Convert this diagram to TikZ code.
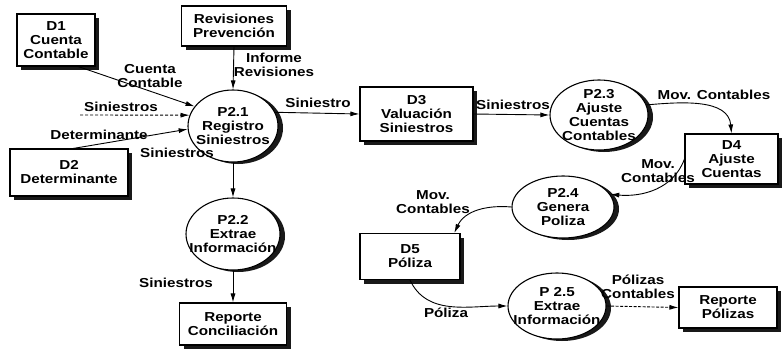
\documentclass[tikz,border=0pt]{standalone}
\usepackage{fontspec}
\setmainfont{Liberation Sans}[FakeStretch=1.17]
\usetikzlibrary{shapes.geometric,shadows,arrows.meta}
\begin{document}
\begin{tikzpicture}[x=1pt,y=-1pt,
  every node/.style={font=\fontsize{13}{14}\selectfont\bfseries, align=center, inner sep=0pt},
  store/.style={draw=black, line width=1.1pt, fill=white,
    drop shadow={shadow xshift=4pt, shadow yshift=-4pt, fill=black, opacity=0.9}},
  proc/.style={ellipse, draw=black, line width=1.1pt, fill=white,
    drop shadow={shadow xshift=5pt, shadow yshift=-2pt, fill=black, opacity=0.9}},
  flow/.style={-{Latex[length=9pt,width=5pt]}, line width=0.9pt}]
\useasboundingbox (0,0) rectangle (783,351);
% stores and processes
\node[store, minimum width=78pt, minimum height=52pt] (D1) at (56,40) {D1\\Cuenta\\Contable};
\node[store, minimum width=105pt, minimum height=40pt] (RP) at (234,26) {Revisiones\\Prevención};
\node[store, minimum width=118pt, minimum height=47pt] (D2) at (69,172.5) {D2\\Determinante};
\node[proc, minimum width=90pt, minimum height=72pt] (P21) at (233,126) {};
\node (P21t) at (P21) {P2.1\\Registro\\Siniestros};
\node[proc, minimum width=94pt, minimum height=72pt] (P22) at (233,234) {};
\node (P22t) at (P22) {P2.2\\Extrae\\Información};
\node[store, minimum width=107pt, minimum height=42pt] (RC) at (233,324) {Reporte\\Conciliación};
\node[store, minimum width=113pt, minimum height=54pt] (D3) at (416.5,114) {D3\\Valuación\\Siniestros};
\node[proc, minimum width=98pt, minimum height=70pt] (P23) at (599,115) {};
\node (P23t) at (P23) {P2.3\\Ajuste\\Cuentas\\Contables};
\node[store, minimum width=93pt, minimum height=50pt] (D4) at (731.5,159) {D4\\Ajuste\\Cuentas};
\node[proc, minimum width=102pt, minimum height=62pt] (P24) at (563,207) {};
\node (P24t) at (P24) {P2.4\\Genera\\Poliza};
\node[store, minimum width=100pt, minimum height=46pt] (D5) at (410,256.5) {D5\\Póliza};
\node[proc, minimum width=98pt, minimum height=66pt] (P25) at (557,306) {};
\node (P25t) at (P25) {P 2.5\\Extrae\\Información};
\node[store, minimum width=98pt, minimum height=41pt] (RPo) at (728,307.5) {Reporte\\Pólizas};
% labels
\node (lCC) at (150,76) {Cuenta\\Contable};
\node (lIR) at (274,65) {Informe\\Revisiones};
\node (lS1) at (121,107) {Siniestros};
\node (lDet) at (99,135) {Determinante};
\node (lS2) at (177,153) {Siniestros};
\node (lS3) at (176,283) {Siniestros};
\node (lS4) at (318,103) {Siniestro};
\node (lS5) at (513,105) {Siniestros};
\node (lMC1) at (714,95) {Mov. Contables};
\node (lMC2) at (658,171) {Mov.\\Contables};
\node (lMC3) at (433,202) {Mov.\\Contables};
\node (lPo) at (446,313) {Póliza};
\node (lPC) at (638,287) {Pólizas\\Contables};
% connectors
\coordinate (sin) at (80,115);
\draw[flow] (D1.-50) -- (P21.153);
\draw[flow, densely dashed] (sin) -- (P21.166);
\draw[flow] (D2.80) -- (P21.184);
\draw[flow] (RP.south) -- (P21.north);
\draw[flow] (P21.18) -- (D3.west);
\draw[flow] (D3.east) -- (P23.west);
\draw[flow] (P21.south) -- (P22.north);
\draw[flow] (P22.south) -- (RC.north);
\draw[flow] (P23.12) to[out=5,in=95] (D4.north);
\draw[flow] (D4.west) to[out=250,in=-5] (P24.15);
\draw[flow] (P24.west) to[out=175,in=65] (D5.28);
\draw[flow] (D5.south) to[out=-65,in=180] (P25.west);
\draw[flow, dash pattern=on 3pt off 1.5pt] (P25.east) -- (RPo.west);
\end{tikzpicture}
\end{document}
